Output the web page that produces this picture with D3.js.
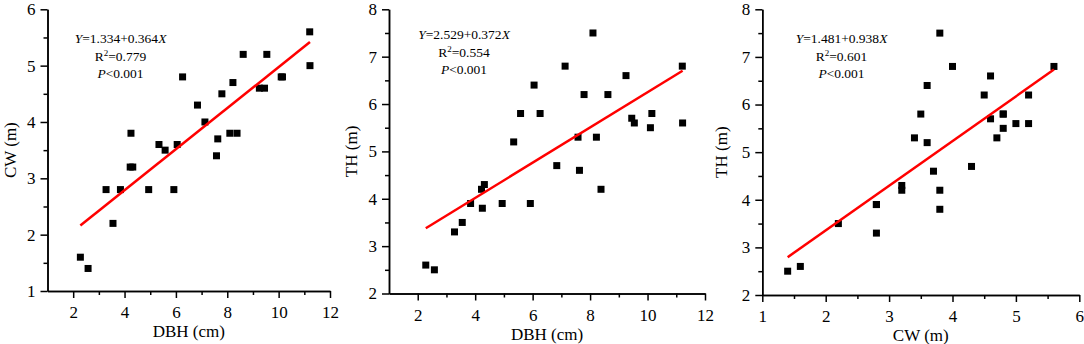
<!DOCTYPE html>
<html>
<head>
<meta charset="utf-8">
<script src="https://cdn.jsdelivr.net/npm/d3@7"></script>
<style>
  html, body { margin: 0; padding: 0; background: #fff; }
  svg { display: block; }
  text { font-family: "Liberation Serif", "Times New Roman", serif; fill: #000; }
</style>
</head>
<body>
<svg id="chart" width="1084" height="344"></svg>
<script>
// ---- data (one entry per tree) ----
const dbh = [2.28, 2.58, 3.28, 3.55, 3.84, 4.25, 4.22, 4.32, 4.94, 5.34, 5.58, 5.92, 6.05, 6.26, 6.84,
             7.13, 7.58, 7.63, 7.79, 8.10, 8.22, 8.38, 8.62, 9.25, 9.45, 9.54, 10.10, 10.15, 11.21, 11.22];
const cw  = [1.6, 1.4, 2.8, 2.2, 2.8, 3.8, 3.2, 3.2, 2.8, 3.6, 3.5, 2.8, 3.6, 4.8, 4.3,
             4.0, 3.4, 3.7, 4.5, 3.8, 4.7, 3.8, 5.2, 4.6, 4.6, 5.2, 4.8, 4.8, 5.6, 5.0];
const th  = [2.6, 2.5, 3.3, 3.5, 3.9, 3.8, 4.2, 4.3, 3.9, 5.2, 5.8, 3.9, 6.4, 5.8, 4.7,
             6.8, 5.3, 4.6, 6.2, 7.5, 5.3, 4.2, 6.2, 6.6, 5.7, 5.6, 5.5, 5.8, 6.8, 5.6];

// regression fits: [intercept, slope]
const intercepts = [1.334, 2.529, 1.481];
const slopes     = [0.364, 0.372, 0.938];
const r2Labels   = ["0.779", "0.554", "0.601"];
const pLabel     = "<0.001";

// tick values
const dbhTicks      = [2, 4, 6, 8, 10, 12];
const dbhMinorTicks = [3, 5, 7, 9, 11];
const cwTicksX      = [1, 2, 3, 4, 5, 6];
const cwMinorX      = [1.5, 2.5, 3.5, 4.5, 5.5];
const cwTicksY      = [1, 2, 3, 4, 5, 6];
const cwMinorY      = [1.5, 2.5, 3.5, 4.5, 5.5];
const thTicks       = [2, 3, 4, 5, 6, 7, 8];
const thMinor       = [2.5, 3.5, 4.5, 5.5, 6.5, 7.5];

const xTitles = ["DBH (cm)", "DBH (cm)", "CW (m)"];
const yTitles = ["CW (m)", "TH (m)", "TH (m)"];

// ---- layout ----
const panels = [
  { xs: dbh, ys: cw, xDom: [1, 12], yDom: [1, 6], xT: dbhTicks, xm: dbhMinorTicks, yT: cwTicksY, ym: cwMinorY,
    left: 47.5, right: 330, top: 9.3, bottom: 291, ann: [120.5, 43], yTitleX: 16 },
  { xs: dbh, ys: th, xDom: [1, 12], yDom: [2, 8], xT: dbhTicks, xm: dbhMinorTicks, yT: thTicks, ym: thMinor,
    left: 389, right: 705, top: 9.3, bottom: 293.5, ann: [464, 39], yTitleX: 357 },
  { xs: cw, ys: th, xDom: [1, 6], yDom: [2, 8], xT: cwTicksX, xm: cwMinorX, yT: thTicks, ym: thMinor,
    left: 762.3, right: 1079.3, top: 9.3, bottom: 295, ann: [841.5, 43], yTitleX: 727 }
];

const svg = d3.select("#chart");

panels.forEach((p, i) => {
  const x = d3.scaleLinear().domain(p.xDom).range([p.left, p.right]);
  const y = d3.scaleLinear().domain(p.yDom).range([p.bottom, p.top]);
  const g = svg.append("g");

  const styleAxis = sel => {
    sel.selectAll("path.domain").attr("stroke", "#000").attr("stroke-width", 1.5);
    sel.selectAll(".tick line").attr("stroke", "#000").attr("stroke-width", 1.5);
    sel.selectAll(".tick text").style("font-family", "'Liberation Serif', serif").style("font-size", "17px").attr("fill", "#000");
  };

  g.append("g").attr("transform", `translate(0,${p.bottom})`)
    .call(d3.axisBottom(x).tickValues(p.xm).tickSize(4).tickSizeOuter(0).tickFormat(""))
    .call(styleAxis);
  g.append("g").attr("transform", `translate(0,${p.bottom})`)
    .call(d3.axisBottom(x).tickValues(p.xT).tickSize(7).tickSizeOuter(0).tickPadding(8).tickFormat(d3.format("d")))
    .call(styleAxis);
  g.append("g").attr("transform", `translate(${p.left},0)`)
    .call(d3.axisLeft(y).tickValues(p.ym).tickSize(4).tickSizeOuter(0).tickFormat(""))
    .call(styleAxis);
  g.append("g").attr("transform", `translate(${p.left},0)`)
    .call(d3.axisLeft(y).tickValues(p.yT).tickSize(7).tickSizeOuter(0).tickPadding(5).tickFormat(d3.format("d")))
    .call(styleAxis);

  // titles
  g.append("text")
    .attr("x", (p.left + p.right) / 2).attr("y", p.bottom + 46)
    .attr("text-anchor", "middle").style("font-size", "17px")
    .text(xTitles[i]);
  g.append("text")
    .attr("transform", `translate(${p.yTitleX},${(p.top + p.bottom) / 2}) rotate(-90)`)
    .attr("text-anchor", "middle").style("font-size", "17px")
    .text(yTitles[i]);

  // points
  const pts = p.xs.map((v, k) => [v, p.ys[k]]);
  const s = 7;
  g.append("g").selectAll("rect").data(pts).join("rect")
    .attr("x", d => x(d[0]) - s / 2).attr("y", d => y(d[1]) - s / 2)
    .attr("width", s).attr("height", s).attr("fill", "#000");

  // regression line
  const ext = d3.extent(p.xs);
  const line = d3.line().x(d => x(d)).y(d => y(intercepts[i] + slopes[i] * d));
  g.append("path").datum(ext).attr("d", line)
    .attr("fill", "none").attr("stroke", "#ff0000").attr("stroke-width", 2.5);

  // annotation
  const [ax, ay] = p.ann;
  const fs = 13.5;
  const t1 = g.append("text").attr("x", ax).attr("y", ay).attr("text-anchor", "middle").style("font-size", fs + "px");
  t1.append("tspan").style("font-style", "italic").text("Y");
  t1.append("tspan").text(`=${intercepts[i].toFixed(3)}+${slopes[i].toFixed(3)}`);
  t1.append("tspan").style("font-style", "italic").text("X");

  const t2 = g.append("text").attr("x", ax).attr("y", ay + 18).attr("text-anchor", "middle").style("font-size", fs + "px");
  t2.append("tspan").text("R");
  t2.append("tspan").attr("dy", -5).style("font-size", "9px").text("2");
  t2.append("tspan").attr("dy", 5).text(`=${r2Labels[i]}`);

  const t3 = g.append("text").attr("x", ax).attr("y", ay + 35).attr("text-anchor", "middle").style("font-size", fs + "px");
  t3.append("tspan").style("font-style", "italic").text("P");
  t3.append("tspan").text(pLabel);
});
</script>
</body>
</html>
